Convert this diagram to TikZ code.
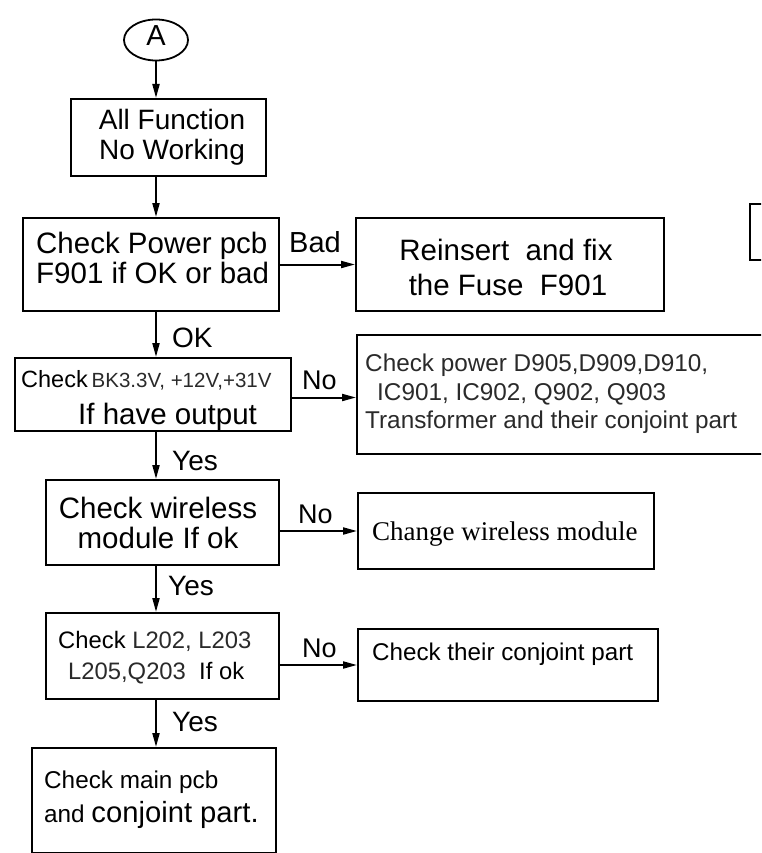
\documentclass[tikz,border=0pt]{standalone}
\usepackage{fontspec}
\setmainfont{Liberation Sans}
\newfontfamily\tnr{Liberation Serif}
\usetikzlibrary{arrows.meta,shapes.geometric}
\newcommand\fsz[1]{\fontsize{#1}{#1}\selectfont}
\definecolor{dg}{HTML}{2A2A2A}
\tikzset{
  box/.style={draw, line width=2pt, anchor=north west, inner sep=0pt},
  txt/.style={anchor=base west, inner sep=0pt},
  ctxt/.style={anchor=base, inner sep=0pt},
  arr/.style={line width=2pt, -{Triangle[length=14pt,width=7pt]}},
}
\begin{document}
\begin{tikzpicture}[x=1pt,y=-1pt]
\useasboundingbox (0,0) rectangle (761,853);
\clip (0,0) rectangle (761,853);
% shapes
\node[draw, ellipse, line width=1.8pt, minimum width=64pt, minimum height=41pt, inner sep=0pt] (A) at (156,40) {};
\node[ctxt] (tA) at (156,46) {\fsz{29}A};
\node[box, minimum width=195pt, minimum height=77pt] (b1) at (70,98) {};
\node[box, minimum width=256pt, minimum height=93pt] (b2) at (22,217) {};
\node[box, minimum width=308pt, minimum height=93pt] (bad) at (355,217) {};
\node[box, minimum width=40pt, minimum height=56pt] (part) at (749,203) {};
\node[box, minimum width=276pt, minimum height=73pt] (b3) at (14,357) {};
\node[box, minimum width=430pt, minimum height=119pt] (d905) at (356,334) {};
\node[box, minimum width=233pt, minimum height=85pt] (b4) at (45,479) {};
\node[box, minimum width=296pt, minimum height=76pt] (cw) at (357,492) {};
\node[box, minimum width=233pt, minimum height=86pt] (b5) at (45,612) {};
\node[box, minimum width=300pt, minimum height=72pt] (ctc) at (357,628) {};
\node[box, minimum width=244pt, minimum height=105pt] (b6) at (31,747) {};
% texts
\node[ctxt] (t1a) at (172,130) {\fsz{28}All Function};
\node[ctxt] (t1b) at (172,160) {\fsz{28}No Working};
\node[txt] (t2a) at (36,253) {\fsz{29.5}Check Power pcb};
\node[txt] (t2b) at (36,283) {\fsz{29.5}F901 if OK or bad};
\node[ctxt] (tbada) at (506,260) {\fsz{29.5}Reinsert\ \ and fix};
\node[ctxt] (tbadb) at (508,295) {\fsz{29.5}the Fuse\ \ F901};
\node[txt] (t3a) at (21,387) {\fsz{23.5}Check\,{\color{dg}\fsz{20.5}BK3.3V,\ +12V,+31V}};
\node[txt] (t3b) at (78,424) {\fsz{29.5}If have output};
\node[txt, text=dg] (td1) at (365,371) {\fsz{24.3}Check power D905,D909,D910,};
\node[txt, text=dg] (td2) at (377,400) {\fsz{24.3}IC901, IC902, Q902, Q903};
\node[txt, text=dg] (td3) at (365,428) {\fsz{24.3}Transformer and their conjoint part};
\node[ctxt] (t4a) at (158,518) {\fsz{29.5}Check wireless};
\node[ctxt] (t4b) at (158,548) {\fsz{29.5}module If ok};
\node[txt] (tcw) at (372,540) {\tnr\fsz{27}Change wireless module};
\node[txt] (t5a) at (58,648) {\fsz{23.8}Check {\color{dg}L202, L203}};
\node[txt] (t5b) at (68,679) {\fsz{23.8}{\color{dg}L205,Q203}\ \ If ok};
\node[txt] (tctc) at (372,660) {\fsz{24.2}Check their conjoint part};
\node[txt] (t6a) at (44,788) {\fsz{24.3}Check main pcb};
\node[txt] (t6b) at (44,822) {\fsz{24.3}and {\fsz{29.2}conjoint part.}};
% labels
\node[txt] (lbad) at (289,252) {\fsz{29}Bad};
\node[txt] (lok) at (172,347) {\fsz{28}OK};
\node[txt] (lno1) at (302,389) {\fsz{27}No};
\node[txt] (lyes1) at (172,470) {\fsz{28}Yes};
\node[txt] (lno2) at (298,523) {\fsz{27}No};
\node[txt] (lyes2) at (168,595) {\fsz{28}Yes};
\node[txt] (lno3) at (302,657) {\fsz{27}No};
\node[txt] (lyes3) at (172,731) {\fsz{28}Yes};
% connectors
\draw[arr] (A.south) -- (A.south |- b1.north);
\draw[arr] (b1.south -| A.south) -- (b2.north -| A.south);
\draw[arr] (b2.east) -- (b2.east -| bad.west);
\draw[arr] (b2.south -| A.south) -- (b3.north -| A.south);
\draw[arr] ([yshift=-3pt]b3.east) -- ([yshift=-3pt]b3.east -| d905.west);
\draw[arr] (b3.south -| A.south) -- (b4.north -| A.south);
\draw[arr] (b4.east |- cw.west) -- (cw.west);
\draw[arr] (b4.south -| A.south) -- (b5.north -| A.south);
\draw[arr] (b5.east |- ctc.west) -- (ctc.west);
\draw[arr] (b5.south -| A.south) -- (b6.north -| A.south);
\end{tikzpicture}
\end{document}
